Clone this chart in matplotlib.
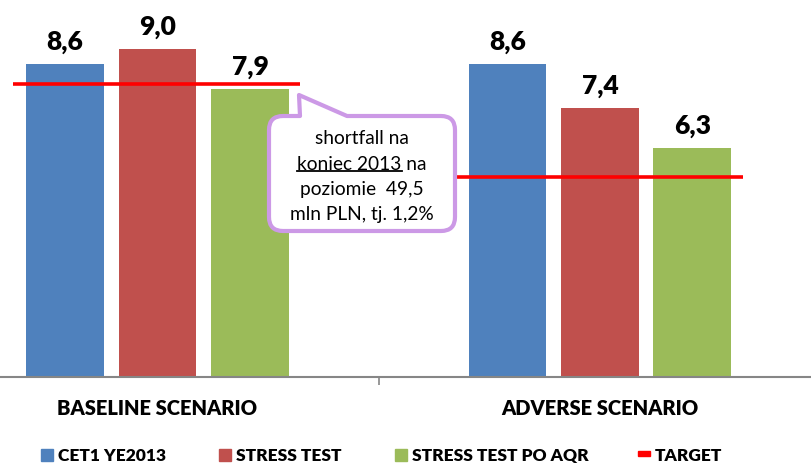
import matplotlib
matplotlib.use("Agg")
import matplotlib.pyplot as plt
import numpy as np
from matplotlib.patches import PathPatch, Rectangle
from matplotlib.path import Path
from matplotlib.transforms import Affine2D, blended_transform_factory

# data
scenarios = ["BASELINE SCENARIO", "ADVERSE SCENARIO"]
series_names = ["CET1 YE2013", "STRESS TEST", "STRESS TEST PO AQR"]
cet1_ye2013 = [8.6, 8.6]
stress_test = [9.0, 7.4]
stress_test_aqr = [7.9, 6.3]
target = [8.05, 5.5]
callout_lines = ["shortfall na", "koniec 2013 na", "poziomie  49,5", "mln PLN, tj. 1,2%"]
underlined = "koniec 2013"

colors = ["#4F81BD", "#C0504D", "#9BBB59"]
target_color = "#FF0000"
callout_edge = "#CC99E6"

plt.rcParams["font.family"] = ["Lato", "DejaVu Sans"]

W, H = 811, 464
fig = plt.figure(figsize=(W / 100, H / 100), dpi=100)
ax = fig.add_axes([0, (H - 378) / H, 1, 375 / H])

# pixel coords (top-left origin) -> figure
px = Affine2D().scale(1 / W, -1 / H).translate(0, 1) + fig.transFigure

x = np.arange(len(scenarios))
offset = 0.209
width = 0.176
for i, vals in enumerate([cet1_ye2013, stress_test, stress_test_aqr]):
    xs = x + (i - 1) * offset
    ax.bar(xs, vals, width, color=colors[i], zorder=2)
    for xi, v in zip(xs, vals):
        ax.annotate(f"{v:.1f}".replace(".", ","), (xi, v), xytext=(0, 11),
                    textcoords="offset points", ha="center", va="baseline",
                    fontsize=19, fontweight="heavy", color="black")

ax.hlines(target, x - 0.326, x + 0.323, color=target_color, lw=2.6, zorder=3)

ax.set_xlim(-0.356, 1.477)
ax.set_ylim(0, 10.3)
for s in ["top", "left", "right"]:
    ax.spines[s].set_visible(False)
ax.spines["bottom"].set_color("#868686")
ax.spines["bottom"].set_linewidth(1.5)
ax.set_yticks([])
ax.set_xticks([0.5])
ax.set_xticklabels([])
ax.tick_params(axis="x", length=6, width=1.2, color="#868686", direction="out")

cat_trans = blended_transform_factory(ax.transData, fig.transFigure)
for xi, name in zip(x, scenarios):
    ax.text(xi, 1 - 409 / H, name, transform=cat_trans, ha="center", va="center",
            fontsize=14.5, fontweight="heavy")

# legend, laid out by hand
legend_x = [41, 219, 395, 638]
for i, (lx, name) in enumerate(zip(legend_x, series_names + ["TARGET"])):
    if i < 3:
        fig.add_artist(Rectangle((lx, 450), 12, 12, transform=px, color=colors[i]))
    else:
        fig.add_artist(Rectangle((lx, 452), 12, 5, transform=px, color=target_color))
    fig.text((lx + 17) / W, 1 - 456 / H, name, ha="left", va="center",
             fontsize=12.5, fontweight="heavy")

# callout bubble
L, R, T, B, r = 269, 455, 117, 232, 14
verts = [(L + r, T), (300, T), (299, 96), (347, T), (R - r, T),
         (R, T), (R, T + r), (R, B - r), (R, B), (R - r, B),
         (L + r, B), (L, B), (L, B - r), (L, T + r), (L, T), (L + r, T),
         (L + r, T)]
codes = [Path.MOVETO, Path.LINETO, Path.LINETO, Path.LINETO, Path.LINETO,
         Path.CURVE3, Path.CURVE3, Path.LINETO, Path.CURVE3, Path.CURVE3,
         Path.LINETO, Path.CURVE3, Path.CURVE3, Path.LINETO, Path.CURVE3, Path.CURVE3,
         Path.CLOSEPOLY]
bubble = PathPatch(Path(verts, codes), facecolor="white", edgecolor=callout_edge,
                   lw=3, transform=px, zorder=5, joinstyle="round")
fig.add_artist(bubble)

line_y = [138, 164, 190, 215]
cx = (L + R) / 2
fs_call = 13.8
texts = []
for ly, line in zip(line_y, callout_lines):
    t = fig.text(cx / W, 1 - ly / H, line, ha="center", va="center",
                 fontsize=fs_call, zorder=6)
    texts.append(t)

# underline "koniec 2013"
fig.canvas.draw()
rend = fig.canvas.get_renderer()
full = texts[1].get_window_extent(rend)
probe = fig.text(0, 0, underlined, fontsize=fs_call, alpha=0)
part = probe.get_window_extent(rend)
probe.remove()
uy = full.y0 + 1
fig.add_artist(plt.Line2D([full.x0, full.x0 + part.width], [uy, uy],
                          transform=None, color="black", lw=1.3, zorder=6))

fig.savefig("out.png", dpi=100)
